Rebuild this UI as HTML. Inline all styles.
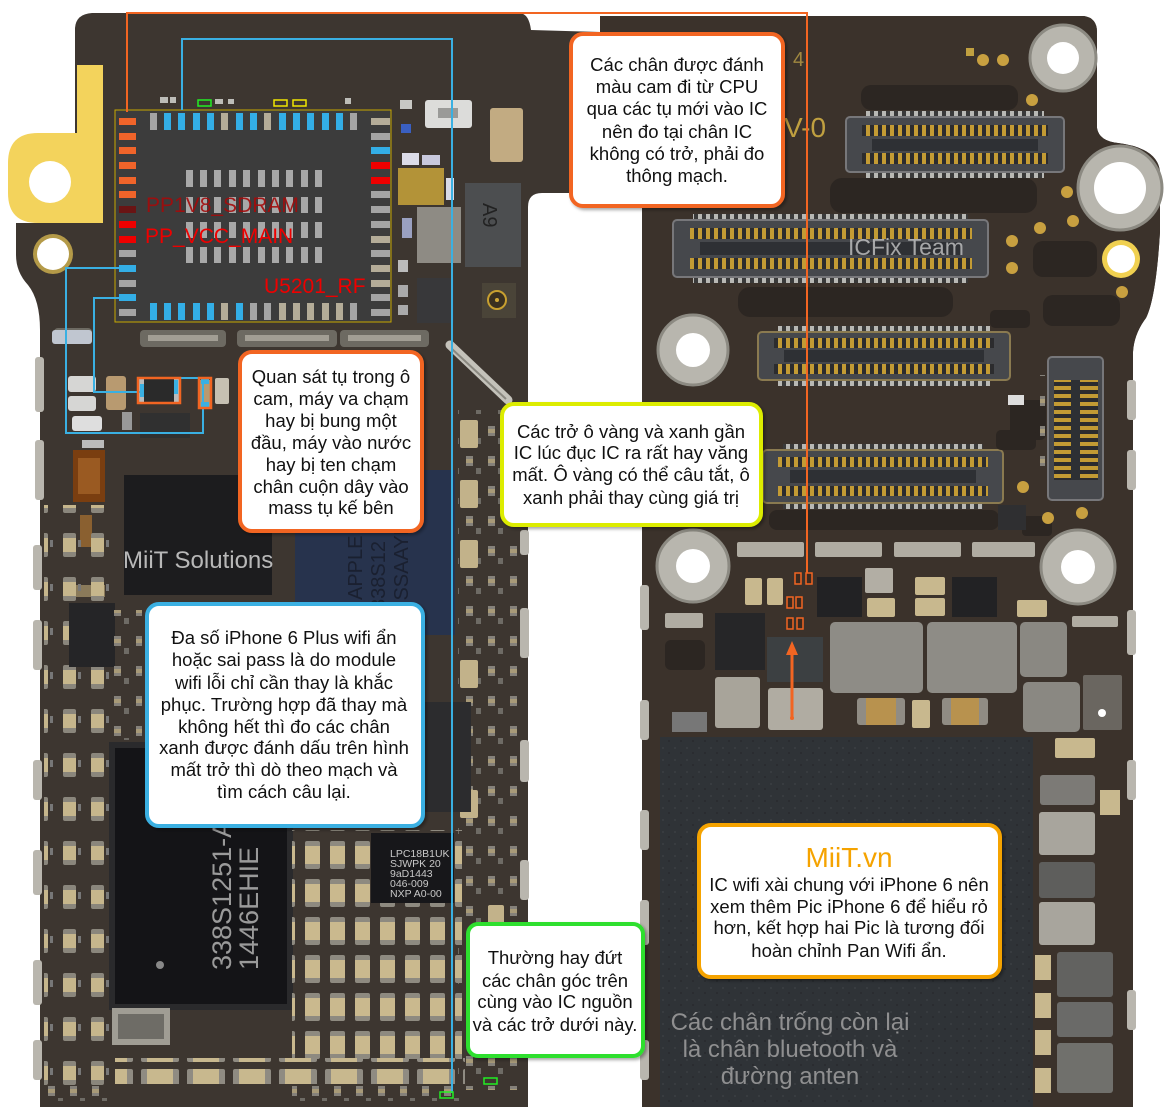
<!DOCTYPE html>
<html><head><meta charset="utf-8">
<style>
html,body{margin:0;padding:0;background:#fff;width:1171px;height:1107px;overflow:hidden}
svg{display:block}
text{font-family:"Liberation Sans","DejaVu Sans",sans-serif}
.cl{font-size:18.5px;fill:#111;text-anchor:middle}
</style></head><body>
<svg xmlns="http://www.w3.org/2000/svg" width="1171" height="1107" viewBox="0 0 1171 1107">
<defs>
 <pattern id="pins" width="8" height="10" patternUnits="userSpaceOnUse"><rect width="8" height="10" fill="#2c2c2e"/><rect x="2" width="4" height="10" fill="#c39b34"/></pattern>
 <pattern id="ticks" width="8" height="6" patternUnits="userSpaceOnUse"><rect width="8" height="6" fill="#3a3a3a"/><rect x="2" width="4" height="6" fill="#b8b8b4"/></pattern>
 <pattern id="vpins" width="10" height="8" patternUnits="userSpaceOnUse"><rect width="10" height="8" fill="#2c2c2e"/><rect y="2" width="10" height="4" fill="#c39b34"/></pattern>
 <pattern id="capv" width="25" height="38" patternUnits="userSpaceOnUse"><rect x="5" y="5" width="15" height="28" rx="2" fill="#8e8a80"/><rect x="5" y="10" width="15" height="18" fill="#cab98e"/></pattern>
 <pattern id="capl" width="28" height="44" patternUnits="userSpaceOnUse"><rect x="7" y="5" width="13" height="24" rx="2" fill="#8a867c"/><rect x="7" y="10" width="13" height="14" fill="#c6b68c"/><rect x="22" y="12" width="3" height="7" fill="#777"/></pattern>
 <pattern id="caph" width="46" height="26" patternUnits="userSpaceOnUse"><rect x="3" y="3" width="38" height="19" rx="2" fill="#8f8b82"/><rect x="9" y="3" width="26" height="19" fill="#c8b88e"/></pattern>
 <pattern id="res" width="22" height="30" patternUnits="userSpaceOnUse"><rect x="4" y="6" width="7" height="10" fill="#85817a"/><rect x="4" y="9" width="7" height="4" fill="#a89a78"/><rect x="14" y="18" width="5" height="6" fill="#6e6b65"/></pattern>
 <pattern id="dots" width="12" height="12" patternUnits="userSpaceOnUse"><rect width="12" height="12" fill="#2f3337"/><circle cx="3" cy="4" r="1" fill="#3a3e42"/><circle cx="9" cy="9" r="1" fill="#272a2d"/></pattern>
 <filter id="sh" x="-5%" y="-5%" width="115%" height="115%"><feDropShadow dx="2" dy="2" stdDeviation="1.5" flood-color="#000" flood-opacity="0.35"/></filter>
</defs>

<!-- BOARDS -->
<path d="M75,28 Q76,14 92,13 L520,13 Q529,14 531,30 L600,32 L600,16 L1084,16 Q1097,18 1097,32 L1097,128 Q1099,141 1118,143 Q1158,148 1160,172 L1160,232 Q1156,298 1146,318 Q1134,334 1133,352 L1133,1107 L642,1107 L642,207 Q642,193 628,193 L542,193 Q528,193 528,207 L528,1107 L40,1107 L40,330 Q40,300 28,285 Q16,272 16,255 L16,223 L75,223 Z" fill="#3d3630"/>
<path d="M642,193 L642,32 L600,32 L600,16 L1084,16 Q1097,18 1097,32 L1097,128 Q1099,141 1118,143 Q1158,148 1160,172 L1160,232 Q1156,298 1146,318 Q1134,334 1133,352 L1133,1107 L642,1107 Z" fill="#3b322b"/>

<!-- edge bumps -->
<g fill="#b9b6ae">
 <rect x="35" y="357" width="9" height="55" rx="3"/><rect x="35" y="440" width="9" height="60" rx="3"/><rect x="33" y="545" width="9" height="45" rx="3"/><rect x="33" y="620" width="9" height="50" rx="3"/><rect x="33" y="760" width="9" height="40" rx="3"/><rect x="33" y="850" width="9" height="45" rx="3"/><rect x="33" y="960" width="9" height="45" rx="3"/><rect x="33" y="1040" width="9" height="40" rx="3"/>
 <rect x="520" y="530" width="9" height="25" rx="3"/><rect x="520" y="608" width="9" height="50" rx="3"/><rect x="520" y="740" width="9" height="42" rx="3"/><rect x="520" y="860" width="9" height="40" rx="3"/><rect x="520" y="960" width="9" height="40" rx="3"/>
 <rect x="640" y="585" width="9" height="45" rx="3"/><rect x="640" y="700" width="9" height="40" rx="3"/><rect x="640" y="810" width="9" height="40" rx="3"/><rect x="640" y="900" width="9" height="45" rx="3"/><rect x="640" y="1040" width="9" height="40" rx="3"/>
 <rect x="1127" y="380" width="9" height="40" rx="3"/><rect x="1127" y="450" width="9" height="40" rx="3"/><rect x="1127" y="610" width="9" height="45" rx="3"/><rect x="1127" y="760" width="9" height="40" rx="3"/><rect x="1127" y="990" width="9" height="40" rx="3"/>
</g>

<!-- yellow tab -->
<path d="M77,65 L103,65 L103,223 L38,223 Q8,223 8,193 L8,163 Q8,133 38,133 L77,133 Z" fill="#f3d35c"/>
<circle cx="50" cy="182" r="21" fill="#fff"/>
<circle cx="53" cy="254" r="20" fill="#b49a48"/><circle cx="53" cy="254" r="16" fill="#fff"/>

<!-- LEFT BOARD COMPONENTS -->
<rect x="400" y="100" width="12" height="9" fill="#c8c8c4"/>
<rect x="425" y="100" width="47" height="28" rx="3" fill="#dcdcda"/><rect x="438" y="108" width="20" height="10" fill="#9a9a98"/>
<rect x="490" y="108" width="33" height="54" rx="3" fill="#c2ab82"/>
<rect x="401" y="124" width="10" height="9" fill="#3a5fc0"/>
<rect x="402" y="153" width="17" height="12" fill="#dcdce8"/><rect x="422" y="155" width="18" height="10" fill="#c8c8dc"/>
<rect x="398" y="168" width="46" height="37" fill="#b39338"/>
<rect x="446" y="178" width="8" height="22" fill="#d8dbe8"/>
<rect x="417" y="207" width="44" height="56" fill="#8e8b84"/>
<rect x="465" y="183" width="56" height="84" fill="#4c4e50"/>
<text x="478" y="222" font-size="20" fill="#222" transform="rotate(90 490 215)">A9</text>
<rect x="402" y="218" width="10" height="20" fill="#9aa0c0"/>
<rect x="417" y="278" width="37" height="45" fill="#38383a"/>
<rect x="482" y="283" width="34" height="35" fill="#4a4438"/>
<circle cx="497" cy="300" r="9" fill="#3a3020" stroke="#c8a030" stroke-width="2"/><circle cx="497" cy="300" r="2" fill="#d0a838"/>
<rect x="398" y="260" width="10" height="12" fill="#bbb"/><rect x="398" y="285" width="10" height="12" fill="#aaa"/><rect x="398" y="305" width="10" height="10" fill="#aaa"/>
<g fill="#6d6a62"><rect x="54" y="328" width="38" height="16" rx="4"/><rect x="140" y="330" width="86" height="17" rx="4"/><rect x="237" y="330" width="100" height="17" rx="4"/><rect x="340" y="330" width="89" height="17" rx="4"/></g>
<g fill="#a29e94"><rect x="60" y="333" width="26" height="6"/><rect x="148" y="335" width="70" height="6"/><rect x="245" y="335" width="84" height="6"/><rect x="348" y="335" width="73" height="6"/></g>
<line x1="450" y1="345" x2="508" y2="400" stroke="#c4c2ba" stroke-width="9" stroke-linecap="round"/>
<line x1="452" y1="349" x2="506" y2="399" stroke="#8a8880" stroke-width="2"/>
<rect x="52" y="330" width="40" height="14" rx="3" fill="#c0c6d0"/>
<rect x="68" y="376" width="28" height="16" rx="3" fill="#d6d6d4"/><rect x="68" y="396" width="28" height="15" rx="3" fill="#d6d6d4"/><rect x="72" y="416" width="30" height="15" rx="3" fill="#dedede"/>
<rect x="106" y="376" width="20" height="34" rx="3" fill="#b89a70"/>
<rect x="138" y="378" width="42" height="25" fill="#2a2a2a"/><rect x="138" y="378" width="6" height="25" fill="#bbb"/><rect x="174" y="378" width="6" height="25" fill="#bbb"/>
<rect x="140" y="413" width="50" height="25" fill="#303030"/>
<rect x="199" y="380" width="12" height="28" fill="#b89a70"/>
<rect x="215" y="378" width="14" height="26" rx="2" fill="#c6c0b2"/>
<rect x="122" y="412" width="10" height="18" fill="#999"/>
<rect x="82" y="440" width="22" height="8" fill="#bbb"/>
<rect x="80" y="515" width="12" height="32" fill="#8a6030"/><rect x="73" y="585" width="32" height="12" fill="#8a7a5a"/>
<rect x="124" y="475" width="148" height="120" fill="#1c1c1e"/>
<rect x="160" y="596" width="110" height="7" fill="url(#res)"/>
<rect x="295" y="470" width="160" height="165" fill="#27334d"/>
<text x="0" y="0" font-size="20" fill="#1a2030" transform="translate(362,600) rotate(-90)">APPLE</text>
<text x="0" y="0" font-size="20" fill="#1a2030" transform="translate(385,610) rotate(-90)">338S12</text>
<text x="0" y="0" font-size="20" fill="#1a2030" transform="translate(408,615) rotate(-90)">USSAAYI</text>
<!-- left column caps -->
<rect x="44" y="505" width="70" height="590" fill="url(#capl)"/>
<rect x="69" y="603" width="46" height="64" fill="#252527"/>
<rect x="73" y="450" width="32" height="52" fill="#7a3e10"/><rect x="78" y="458" width="22" height="36" fill="#9a5a22"/>
<rect x="112" y="610" width="30" height="130" fill="url(#res)"/>
<!-- right column small parts -->
<rect x="458" y="410" width="62" height="680" fill="url(#res)"/>
<g fill="#c2b28a"><rect x="460" y="420" width="18" height="28" rx="2"/><rect x="460" y="480" width="18" height="28" rx="2"/><rect x="460" y="540" width="18" height="28" rx="2"/><rect x="460" y="660" width="18" height="28" rx="2"/><rect x="460" y="790" width="18" height="28" rx="2"/><rect x="488" y="905" width="16" height="24" rx="2"/></g>
<rect x="425" y="702" width="46" height="110" fill="#2c2c2e"/>
<!-- big black chip -->
<rect x="112" y="745" width="178" height="262" fill="#141417" stroke="#2a2a2c" stroke-width="6"/>
<text x="0" y="0" font-size="27" fill="#9a9a9a" transform="translate(231,970) rotate(-90)">338S1251-A</text>
<text x="0" y="0" font-size="27" fill="#9a9a9a" transform="translate(258,970) rotate(-90)">1446EHIE</text>
<circle cx="160" cy="965" r="4" fill="#888"/>
<!-- caps field right of chip -->
<rect x="292" y="830" width="170" height="230" fill="url(#capv)"/>
<rect x="115" y="1058" width="350" height="26" fill="url(#caph)"/>
<rect x="292" y="1085" width="170" height="16" fill="url(#res)"/>
<rect x="44" y="1085" width="70" height="16" fill="url(#res)"/>
<!-- LPC chip -->
<rect x="371" y="833" width="83" height="70" fill="#17171a"/>
<g font-family="Liberation Mono, monospace" font-size="10.5" fill="#c8c8c8">
<text x="390" y="857">LPC18B1UK</text><text x="390" y="867">SJWPK 20</text><text x="390" y="877">9aD1443</text><text x="390" y="887">046-009</text><text x="390" y="897">NXP A0-00</text></g>
<rect x="112" y="1008" width="58" height="37" fill="#a09d94"/><rect x="118" y="1014" width="46" height="25" fill="#6e6c66"/>
<g fill="#bdbdb8"><rect x="160" y="97" width="8" height="6"/><rect x="170" y="97" width="6" height="6"/><rect x="215" y="99" width="8" height="5"/><rect x="228" y="99" width="6" height="5"/><rect x="345" y="98" width="6" height="6"/></g>

<!-- CHIP U5201 -->
<rect x="115" y="110" width="276" height="212" fill="#3c3c3c" stroke="#c8a800" stroke-width="1"/>
<g>
<rect x="150" y="113" width="7" height="17" fill="#a4a4a4"/><rect x="164" y="113" width="7" height="17" fill="#33aee6"/><rect x="178" y="113" width="7" height="17" fill="#33aee6"/><rect x="193" y="113" width="7" height="17" fill="#33aee6"/><rect x="207" y="113" width="7" height="17" fill="#33aee6"/><rect x="221" y="113" width="7" height="17" fill="#b4ac98"/><rect x="236" y="113" width="7" height="17" fill="#33aee6"/><rect x="250" y="113" width="7" height="17" fill="#33aee6"/><rect x="264" y="113" width="7" height="17" fill="#b4ac98"/><rect x="279" y="113" width="7" height="17" fill="#33aee6"/><rect x="293" y="113" width="7" height="17" fill="#33aee6"/><rect x="307" y="113" width="7" height="17" fill="#33aee6"/><rect x="322" y="113" width="7" height="17" fill="#33aee6"/><rect x="336" y="113" width="7" height="17" fill="#33aee6"/><rect x="350" y="113" width="7" height="17" fill="#a4a4a4"/>
<rect x="150" y="303" width="7" height="17" fill="#33aee6"/><rect x="164" y="303" width="7" height="17" fill="#33aee6"/><rect x="178" y="303" width="7" height="17" fill="#33aee6"/><rect x="193" y="303" width="7" height="17" fill="#33aee6"/><rect x="207" y="303" width="7" height="17" fill="#33aee6"/><rect x="221" y="303" width="7" height="17" fill="#b4ac98"/><rect x="236" y="303" width="7" height="17" fill="#33aee6"/><rect x="250" y="303" width="7" height="17" fill="#a4a4a4"/><rect x="264" y="303" width="7" height="17" fill="#a4a4a4"/><rect x="279" y="303" width="7" height="17" fill="#b4ac98"/><rect x="293" y="303" width="7" height="17" fill="#b4ac98"/><rect x="307" y="303" width="7" height="17" fill="#b4ac98"/><rect x="322" y="303" width="7" height="17" fill="#b4ac98"/><rect x="336" y="303" width="7" height="17" fill="#b4ac98"/><rect x="350" y="303" width="7" height="17" fill="#a4a4a4"/>
<rect x="119" y="118" width="17" height="7" fill="#f0642a"/><rect x="119" y="133" width="17" height="7" fill="#f0642a"/><rect x="119" y="147" width="17" height="7" fill="#f0642a"/><rect x="119" y="162" width="17" height="7" fill="#f0642a"/><rect x="119" y="177" width="17" height="7" fill="#f0642a"/><rect x="119" y="191" width="17" height="7" fill="#f0642a"/><rect x="119" y="206" width="17" height="7" fill="#6a1414"/><rect x="119" y="221" width="17" height="7" fill="#ee0000"/><rect x="119" y="236" width="17" height="7" fill="#ee0000"/><rect x="119" y="250" width="17" height="7" fill="#a4a4a4"/><rect x="119" y="265" width="17" height="7" fill="#33aee6"/><rect x="119" y="280" width="17" height="7" fill="#a4a4a4"/><rect x="119" y="294" width="17" height="7" fill="#33aee6"/><rect x="119" y="309" width="17" height="7" fill="#a4a4a4"/>
<rect x="371" y="118" width="19" height="7" fill="#b4ac98"/><rect x="371" y="133" width="19" height="7" fill="#a4a4a4"/><rect x="371" y="147" width="19" height="7" fill="#33aee6"/><rect x="371" y="162" width="19" height="7" fill="#ee0000"/><rect x="371" y="177" width="19" height="7" fill="#ee0000"/><rect x="371" y="191" width="19" height="7" fill="#a4a4a4"/><rect x="371" y="206" width="19" height="7" fill="#a4a4a4"/><rect x="371" y="221" width="19" height="7" fill="#a4a4a4"/><rect x="371" y="236" width="19" height="7" fill="#b4ac98"/><rect x="371" y="250" width="19" height="7" fill="#a4a4a4"/><rect x="371" y="265" width="19" height="7" fill="#b4ac98"/><rect x="371" y="280" width="19" height="7" fill="#b4ac98"/><rect x="371" y="294" width="19" height="7" fill="#a4a4a4"/><rect x="371" y="309" width="19" height="7" fill="#a4a4a4"/>
</g>
<g fill="#a8a8a8">
<rect x="186" y="170" width="7" height="17"/><rect x="200" y="170" width="7" height="17"/><rect x="214" y="170" width="7" height="17"/><rect x="229" y="170" width="7" height="17"/><rect x="243" y="170" width="7" height="17"/><rect x="258" y="170" width="7" height="17"/><rect x="272" y="170" width="7" height="17"/><rect x="286" y="170" width="7" height="17"/><rect x="301" y="170" width="7" height="17"/><rect x="315" y="170" width="7" height="17"/>
<rect x="186" y="197" width="7" height="16"/><rect x="200" y="197" width="7" height="16"/><rect x="214" y="197" width="7" height="16"/><rect x="229" y="197" width="7" height="16"/><rect x="243" y="197" width="7" height="16"/><rect x="258" y="197" width="7" height="16"/><rect x="272" y="197" width="7" height="16"/><rect x="286" y="197" width="7" height="16"/><rect x="301" y="197" width="7" height="16"/><rect x="315" y="197" width="7" height="16"/>
<rect x="186" y="222" width="7" height="16"/><rect x="200" y="222" width="7" height="16"/><rect x="214" y="222" width="7" height="16"/><rect x="229" y="222" width="7" height="16"/><rect x="243" y="222" width="7" height="16"/><rect x="258" y="222" width="7" height="16"/><rect x="272" y="222" width="7" height="16"/><rect x="286" y="222" width="7" height="16"/><rect x="301" y="222" width="7" height="16"/><rect x="315" y="222" width="7" height="16"/>
<rect x="186" y="247" width="7" height="16"/><rect x="200" y="247" width="7" height="16"/><rect x="214" y="247" width="7" height="16"/><rect x="229" y="247" width="7" height="16"/><rect x="243" y="247" width="7" height="16"/><rect x="258" y="247" width="7" height="16"/><rect x="272" y="247" width="7" height="16"/><rect x="286" y="247" width="7" height="16"/><rect x="301" y="247" width="7" height="16"/><rect x="315" y="247" width="7" height="16"/>
</g>
<text x="146" y="212" font-size="21" fill="#a40a0a" fill-opacity="0.9">PP1V8_SDRAM</text>
<text x="145" y="243" font-size="21" fill="#ee0000">PP_VCC_MAIN</text>
<text x="264" y="293" font-size="21" fill="#ee0000">U5201_RF</text>

<!-- RIGHT BOARD -->
<g fill="#2c2622">
 <rect x="861" y="85" width="157" height="25" rx="10"/>
 <rect x="830" y="178" width="207" height="35" rx="12"/>
 <rect x="738" y="287" width="215" height="30" rx="12"/>
 <rect x="769" y="510" width="230" height="20" rx="8"/>
 <rect x="1033" y="241" width="64" height="36" rx="10"/>
 <rect x="1043" y="295" width="77" height="31" rx="10"/>
 <rect x="1010" y="400" width="36" height="40" rx="6"/>
 <rect x="1022" y="516" width="30" height="20" rx="4"/>
</g>
<text x="784" y="137" font-size="28" font-family="Liberation Mono, monospace" fill="#c0a040">V-0</text>
<text x="793" y="66" font-size="20" font-family="Liberation Mono, monospace" fill="#a08840">4</text>
<rect x="966" y="48" width="8" height="8" fill="#c0a040"/>
<g fill="#c8a040">
 <circle cx="983" cy="60" r="6"/><circle cx="1003" cy="60" r="6"/><circle cx="1032" cy="100" r="6"/><circle cx="1067" cy="192" r="6"/><circle cx="1073" cy="221" r="6"/><circle cx="1040" cy="228" r="6"/><circle cx="1012" cy="241" r="6"/><circle cx="1012" cy="268" r="6"/><circle cx="1122" cy="292" r="6"/><circle cx="1023" cy="487" r="6"/><circle cx="1048" cy="518" r="6"/><circle cx="1082" cy="513" r="6"/>
</g>
<g>
 <rect x="866" y="111" width="178" height="6" fill="url(#ticks)"/><rect x="866" y="172" width="178" height="6" fill="url(#ticks)"/>
 <rect x="846" y="117" width="218" height="55" rx="4" fill="#46484c" stroke="#77777a" stroke-width="2"/>
 <rect x="862" y="125" width="186" height="11" fill="url(#pins)"/><rect x="862" y="153" width="186" height="11" fill="url(#pins)"/>
 <rect x="872" y="139" width="166" height="12" fill="#2e3034"/>

 <rect x="693" y="214" width="275" height="6" fill="url(#ticks)"/><rect x="693" y="277" width="275" height="6" fill="url(#ticks)"/>
 <rect x="673" y="220" width="315" height="57" rx="4" fill="#46484c" stroke="#77777a" stroke-width="2"/>
 <rect x="690" y="228" width="282" height="11" fill="url(#pins)"/><rect x="690" y="258" width="282" height="11" fill="url(#pins)"/>
 <rect x="700" y="242" width="262" height="13" fill="#2e3034"/>

 <rect x="778" y="326" width="212" height="6" fill="url(#ticks)"/><rect x="778" y="380" width="212" height="6" fill="url(#ticks)"/>
 <rect x="758" y="332" width="252" height="48" rx="4" fill="#46484c" stroke="#8a7a50" stroke-width="2"/>
 <rect x="774" y="338" width="220" height="10" fill="url(#pins)"/><rect x="774" y="364" width="220" height="10" fill="url(#pins)"/>
 <rect x="784" y="350" width="200" height="12" fill="#2e3034"/>

 <rect x="783" y="444" width="200" height="6" fill="url(#ticks)"/><rect x="783" y="503" width="200" height="6" fill="url(#ticks)"/>
 <rect x="763" y="450" width="240" height="53" rx="4" fill="#46484c" stroke="#8a7a50" stroke-width="2"/>
 <rect x="778" y="457" width="210" height="10" fill="url(#pins)"/><rect x="778" y="486" width="210" height="10" fill="url(#pins)"/>
 <rect x="790" y="470" width="186" height="13" fill="#2e3034"/>

 <rect x="1048" y="357" width="55" height="143" rx="4" fill="#46484c" stroke="#77777a" stroke-width="2"/>
 <rect x="1054" y="380" width="18" height="100" fill="url(#vpins)"/><rect x="1080" y="380" width="18" height="100" fill="url(#vpins)"/>
 <rect x="1071" y="380" width="9" height="100" fill="#2e3034"/>
 <rect x="1040" y="375" width="6" height="110" fill="url(#res)"/>
</g>
<text x="848" y="255" font-size="23" fill="#cfcfcf" fill-opacity="0.75">ICFix Team</text>
<g fill="#2c2622"><rect x="990" y="310" width="40" height="18" rx="5"/><rect x="996" y="430" width="40" height="20" rx="5"/></g>
<rect x="1008" y="395" width="16" height="10" fill="#ddd"/>
<rect x="998" y="505" width="28" height="25" fill="#2f2f31"/>
<g fill="#b0aca2"><rect x="737" y="542" width="67" height="15" rx="2"/><rect x="815" y="542" width="67" height="15" rx="2"/><rect x="894" y="542" width="67" height="15" rx="2"/><rect x="972" y="542" width="63" height="15" rx="2"/><rect x="1072" y="616" width="46" height="11" rx="2"/><rect x="665" y="613" width="38" height="15" rx="2"/></g>
<g>
 <circle cx="1063" cy="58" r="33" fill="#b8b6ae" stroke="#8c8a82" stroke-width="3"/><circle cx="1063" cy="58" r="16" fill="#fff"/>
 <circle cx="1120" cy="188" r="42" fill="#b8b6ae" stroke="#8c8a82" stroke-width="3"/><circle cx="1120" cy="188" r="26" fill="#fff"/>
 <circle cx="1121" cy="259" r="19" fill="#f0d050"/><circle cx="1121" cy="259" r="14" fill="#fff"/>
 <circle cx="693" cy="350" r="35" fill="#b8b6ae" stroke="#8c8a82" stroke-width="3"/><circle cx="693" cy="350" r="17" fill="#fff"/>
 <circle cx="693" cy="566" r="36" fill="#b8b6ae" stroke="#8c8a82" stroke-width="3"/><circle cx="693" cy="566" r="17" fill="#fff"/>
 <circle cx="1078" cy="567" r="37" fill="#b8b6ae" stroke="#8c8a82" stroke-width="3"/><circle cx="1078" cy="567" r="17" fill="#fff"/>
</g>
<rect x="745" y="578" width="17" height="27" rx="2" fill="#c8b88e"/><rect x="767" y="578" width="16" height="27" rx="2" fill="#c8b88e"/>
<rect x="817" y="577" width="45" height="40" fill="#222224"/>
<rect x="952" y="577" width="45" height="40" fill="#222224"/>
<rect x="865" y="568" width="28" height="25" rx="2" fill="#b2aea4"/>
<rect x="867" y="598" width="28" height="19" rx="2" fill="#c8b88e"/>
<rect x="915" y="577" width="30" height="18" rx="2" fill="#c8b88e"/><rect x="915" y="598" width="30" height="18" rx="2" fill="#c8b88e"/>
<rect x="1017" y="600" width="30" height="17" rx="2" fill="#c8b88e"/>
<rect x="715" y="613" width="50" height="57" fill="#262628"/>
<rect x="767" y="637" width="56" height="45" fill="#3c4042"/>
<rect x="715" y="677" width="45" height="51" rx="3" fill="#a8a49a"/>
<rect x="768" y="688" width="55" height="42" rx="3" fill="#b0aca2"/>
<rect x="830" y="622" width="93" height="71" rx="5" fill="#8e8c86"/>
<rect x="927" y="622" width="90" height="71" rx="5" fill="#8e8c86"/>
<rect x="1020" y="622" width="47" height="55" rx="5" fill="#8a8882"/>
<rect x="1023" y="682" width="57" height="50" rx="5" fill="#8a8882"/>
<rect x="857" y="698" width="48" height="27" rx="3" fill="#908c84"/><rect x="866" y="698" width="30" height="27" fill="#b8924e"/>
<rect x="912" y="700" width="18" height="28" rx="2" fill="#c8b88e"/>
<rect x="942" y="698" width="46" height="27" rx="3" fill="#908c84"/><rect x="951" y="698" width="28" height="27" fill="#b8924e"/>
<rect x="1083" y="675" width="39" height="55" rx="2" fill="#6a6660"/><circle cx="1102" cy="713" r="4" fill="#fff"/>
<rect x="665" y="640" width="40" height="30" rx="6" fill="#2c2622"/>
<rect x="672" y="712" width="35" height="20" fill="#777"/>
<rect x="1055" y="738" width="40" height="20" rx="2" fill="#c8b88e"/>
<rect x="660" y="737" width="373" height="370" fill="url(#dots)"/>
<rect x="1040" y="775" width="55" height="30" rx="3" fill="#7c7a76"/>
<rect x="1039" y="812" width="56" height="43" rx="3" fill="#a8a59d"/>
<rect x="1039" y="862" width="56" height="36" rx="3" fill="#5e5e5c"/>
<rect x="1039" y="902" width="56" height="43" rx="3" fill="#a8a59d"/>
<rect x="1057" y="952" width="56" height="45" rx="3" fill="#626260"/>
<rect x="1057" y="1002" width="56" height="35" rx="3" fill="#6a6a68"/>
<rect x="1057" y="1043" width="56" height="50" rx="3" fill="#70706c"/>
<g fill="#c8b88e"><rect x="1035" y="955" width="16" height="25"/><rect x="1035" y="993" width="16" height="25"/><rect x="1035" y="1030" width="16" height="25"/><rect x="1035" y="1068" width="16" height="25"/><rect x="1100" y="790" width="20" height="25"/></g>
<text x="790" y="1030" font-size="24" fill="#a0a0a0" fill-opacity="0.85" text-anchor="middle">Các chân trống còn lại</text>
<text x="790" y="1057" font-size="24" fill="#a0a0a0" fill-opacity="0.85" text-anchor="middle">là chân bluetooth và</text>
<text x="790" y="1084" font-size="24" fill="#a0a0a0" fill-opacity="0.85" text-anchor="middle">đường anten</text>

<text x="123" y="568" font-size="24" fill="#d4d4d4" fill-opacity="0.85">MiiT Solutions</text>

<!-- CONNECTOR LINES -->
<polyline points="182,110 182,39 452,39 452,1093" fill="none" stroke="#3ab0e2" stroke-width="2"/>
<polyline points="127,112 127,13 807,13 807,574" fill="none" stroke="#f26522" stroke-width="2"/>
<polyline points="119,268 66,268 66,433 203,433 203,378 180,378" fill="none" stroke="#3ab0e2" stroke-width="2"/>
<polyline points="119,298 94,298 94,392 142,392" fill="none" stroke="#3ab0e2" stroke-width="2"/>
<rect x="140" y="384" width="4" height="13" fill="#3ab0e2"/><rect x="174" y="380" width="4" height="14" fill="#3ab0e2"/>
<rect x="201" y="379" width="8" height="5" fill="#3ab0e2"/><rect x="201" y="402" width="8" height="5" fill="#3ab0e2"/>
<rect x="138" y="378" width="42" height="25" fill="none" stroke="#f26522" stroke-width="2.5"/>
<rect x="199" y="378" width="12" height="30" fill="none" stroke="#f26522" stroke-width="2.5"/>
<rect x="198" y="100" width="13" height="6" fill="none" stroke="#22ee22" stroke-width="1.5"/>
<rect x="274" y="100" width="13" height="6" fill="none" stroke="#f2e600" stroke-width="1.5"/>
<rect x="293" y="100" width="13" height="6" fill="none" stroke="#f2e600" stroke-width="1.5"/>
<rect x="440" y="1092" width="13" height="6" fill="none" stroke="#22ee22" stroke-width="1.5"/>
<rect x="484" y="1078" width="13" height="6" fill="none" stroke="#22ee22" stroke-width="1.5"/>
<g fill="#3a2a20" stroke="#f26522" stroke-width="1.5">
 <rect x="795" y="573" width="6" height="11"/><rect x="806" y="573" width="6" height="11"/>
 <rect x="787" y="597" width="6" height="11"/><rect x="796" y="597" width="6" height="11"/>
 <rect x="787" y="618" width="6" height="11"/><rect x="797" y="618" width="6" height="11"/>
</g>
<line x1="792" y1="718" x2="792" y2="652" stroke="#f26522" stroke-width="3"/>
<polygon points="792,641 786,655 798,655" fill="#f26522"/>
<circle cx="792" cy="718" r="2" fill="#f26522"/>

<!-- CALLOUTS -->
<g filter="url(#sh)">
<rect x="571" y="34" width="212" height="172" rx="12" fill="#fff" stroke="#f26522" stroke-width="4"/>
<rect x="240" y="352" width="182" height="179" rx="12" fill="#fff" stroke="#f26522" stroke-width="4"/>
<rect x="502" y="404" width="259" height="121" rx="12" fill="#fff" stroke="#dcec00" stroke-width="4"/>
<rect x="147" y="604" width="276" height="222" rx="12" fill="#fff" stroke="#3ab0e2" stroke-width="4"/>
<rect x="468" y="924" width="175" height="132" rx="10" fill="#fff" stroke="#2edf2e" stroke-width="4"/>
<rect x="699" y="825" width="301" height="152" rx="12" fill="#fff" stroke="#f5a300" stroke-width="4"/>
</g>
<text class="cl" x="677" y="71">Các chân được đánh</text>
<text class="cl" x="677" y="93">màu cam đi từ CPU</text>
<text class="cl" x="677" y="115">qua các tụ mới vào IC</text>
<text class="cl" x="677" y="138">nên đo tại chân IC</text>
<text class="cl" x="677" y="160">không có trở, phải đo</text>
<text class="cl" x="677" y="182">thông mạch.</text>

<text class="cl" x="331" y="383">Quan sát tụ trong ô</text>
<text class="cl" x="331" y="405">cam, máy va chạm</text>
<text class="cl" x="331" y="427">hay bị bung một</text>
<text class="cl" x="331" y="449">đầu, máy vào nước</text>
<text class="cl" x="331" y="471">hay bị ten chạm</text>
<text class="cl" x="331" y="493">chân cuộn dây vào</text>
<text class="cl" x="331" y="514">mass tụ kế bên</text>

<text class="cl" x="631" y="438">Các trở ô vàng và xanh gần</text>
<text class="cl" x="631" y="459">IC lúc đục IC ra rất hay văng</text>
<text class="cl" x="631" y="481">mất. Ô vàng có thể câu tắt, ô</text>
<text class="cl" x="631" y="504">xanh phải thay cùng giá trị</text>

<text class="cl" x="284" y="644">Đa số iPhone 6 Plus wifi ẩn</text>
<text class="cl" x="284" y="666">hoặc sai pass là do module</text>
<text class="cl" x="284" y="689">wifi lỗi chỉ cần thay là khắc</text>
<text class="cl" x="284" y="711">phục. Trường hợp đã thay mà</text>
<text class="cl" x="284" y="733">không hết thì đo các chân</text>
<text class="cl" x="284" y="754">xanh được đánh dấu trên hình</text>
<text class="cl" x="284" y="776">mất trở thì dò theo mạch và</text>
<text class="cl" x="284" y="798">tìm cách câu lại.</text>

<text class="cl" x="555" y="964">Thường hay đứt</text>
<text class="cl" x="555" y="987">các chân góc trên</text>
<text class="cl" x="555" y="1008">cùng vào IC nguồn</text>
<text class="cl" x="555" y="1031">và các trở dưới này.</text>

<text x="849" y="867" font-size="28" fill="#f5a300" text-anchor="middle">MiiT.vn</text>
<text class="cl" x="849" y="891">IC wifi xài chung với iPhone 6 nên</text>
<text class="cl" x="849" y="913">xem thêm Pic iPhone 6 để hiểu rỏ</text>
<text class="cl" x="849" y="934">hơn, kết hợp hai Pic là tương đối</text>
<text class="cl" x="849" y="957">hoàn chỉnh Pan Wifi ẩn.</text>
</svg>
</body></html>
